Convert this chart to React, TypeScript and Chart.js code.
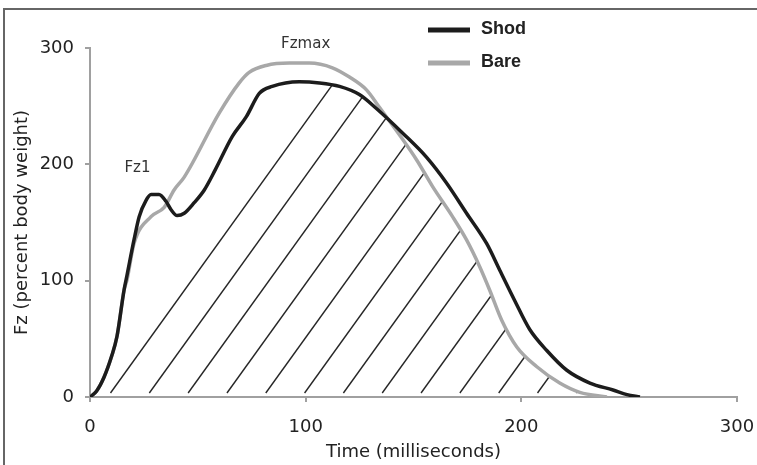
import React, { useEffect, useRef } from "react";
import { Chart, registerables } from "chart.js";

Chart.register(...registerables);

// ---- Data ----
const seriesLabels = ["Shod", "Bare"];

const shodTime = [0, 3, 6.5, 10, 12.5, 15.8, 17.2, 20.4, 22.8, 26, 28.3, 32, 35.3, 37.6, 40.4, 43.7, 48.3, 53, 58, 66, 72.5, 78.5, 84.5, 97, 106.4, 115.7, 124.9, 132.8, 144.9, 156.1, 165.3, 174.6, 183.9, 190, 196.9, 203.9, 211.8, 221.1, 231.8, 242.5, 249, 255];
const shodForce = [0, 5, 17, 35, 52, 92, 105, 135, 155, 169, 174, 174, 168, 161, 156, 158, 167, 178, 195, 224, 241, 261, 267, 271, 270, 267, 260, 248, 227, 206, 184, 158, 132, 109, 83, 58, 40, 23, 12, 6, 2, 0];

const bareTime = [0, 3, 6.5, 12.5, 15.8, 17.2, 20.4, 28.3, 34.4, 39, 43.7, 59.9, 69.2, 73.8, 81.7, 92.4, 101.7, 112.4, 120.3, 128.2, 134.2, 151.4, 158.8, 168.1, 174.6, 180.7, 185.3, 190.9, 197.9, 207.2, 217.8, 227.1, 239.7];
const bareForce = [0, 5, 17, 52, 92, 101, 132, 155, 163, 178, 189, 244, 270, 279, 285, 287, 287, 283, 275, 264, 249, 204, 181, 155, 135, 112, 92, 66, 43, 26, 12, 4, 0];

const xTickValues = [0, 100, 200, 300];
const yTickValues = [0, 100, 200, 300];

const annotationLabels = ["Fz1", "Fzmax"];
const annotationTime = [22, 100];
const annotationForce = [197, 303];

// hatch spacing in data units (ms)
const hatchStart = 9.5;
const hatchStep = 18;

const shodColor = "#1c1c1c";
const bareColor = "#a8a8a8";
const axisColor = "#a0a0a0";
const textColor = "#222222";

const hatchPlugin = {
  id: "hatch",
  beforeDatasetsDraw(chart: any) {
    const ctx = chart.ctx as CanvasRenderingContext2D;
    const area = chart.chartArea;
    const xs = chart.scales.x;
    const ys = chart.scales.y;
    const base = ys.getPixelForValue(0);
    const m0 = chart.getDatasetMeta(0).data;
    const m1 = chart.getDatasetMeta(1).data;
    ctx.save();
    const region = (pts: any[]) => {
      ctx.beginPath();
      ctx.moveTo(pts[0].x, base);
      pts.forEach((p) => ctx.lineTo(p.x, p.y));
      ctx.lineTo(pts[pts.length - 1].x, base);
      ctx.closePath();
      ctx.clip();
    };
    region(m0);
    region(m1);
    ctx.strokeStyle = "#262626";
    ctx.lineWidth = 1.4;
    const h = base - area.top;
    const slope = 0.72;
    for (let t = hatchStart; t < 300; t += hatchStep) {
      const x0 = xs.getPixelForValue(t);
      ctx.beginPath();
      ctx.moveTo(x0, base - 4);
      ctx.lineTo(x0 + slope * h, base - 4 - h);
      ctx.stroke();
    }
    ctx.restore();
  },
  afterDatasetsDraw(chart: any) {
    const ctx = chart.ctx as CanvasRenderingContext2D;
    const xs = chart.scales.x;
    const ys = chart.scales.y;
    ctx.save();
    ctx.font = "15px 'DejaVu Sans'";
    ctx.fillStyle = "#333";
    ctx.textAlign = "center";
    ctx.textBaseline = "middle";
    annotationLabels.forEach((lab, i) => {
      ctx.fillText(lab, xs.getPixelForValue(annotationTime[i]), ys.getPixelForValue(annotationForce[i]));
    });
    ctx.restore();
  },
  afterDraw(chart: any) {
    const ctx = chart.ctx as CanvasRenderingContext2D;
    ctx.save();
    const lx = 428;
    const lw = 42;
    const rows = [30, 63];
    chart.data.datasets.forEach((ds: any, i: number) => {
      const y = rows[i];
      ctx.strokeStyle = ds.borderColor;
      ctx.lineWidth = 5;
      ctx.beginPath();
      ctx.moveTo(lx, y);
      ctx.lineTo(lx + lw, y);
      ctx.stroke();
      ctx.font = "bold 18px 'Liberation Sans'";
      ctx.fillStyle = textColor;
      ctx.textAlign = "left";
      ctx.textBaseline = "middle";
      ctx.fillText(ds.label, lx + lw + 11, y - 1);
    });
    ctx.restore();
  },
};

export default function App() {
  const ref = useRef<HTMLCanvasElement | null>(null);
  useEffect(() => {
    if (!ref.current) return;
    const tickFont = { family: "'DejaVu Sans'", size: 18 };
    const titleFont = { family: "'DejaVu Sans'", size: 18 };
    const chart = new Chart(ref.current, {
      type: "line",
      data: {
        datasets: [
          {
            label: seriesLabels[0],
            data: shodTime.map((t, i) => ({ x: t, y: shodForce[i] })),
            borderColor: shodColor,
            borderWidth: 3.5,
            pointRadius: 0,
            cubicInterpolationMode: "monotone",
            fill: false,
          },
          {
            label: seriesLabels[1],
            data: bareTime.map((t, i) => ({ x: t, y: bareForce[i] })),
            borderColor: bareColor,
            borderWidth: 3.5,
            pointRadius: 0,
            cubicInterpolationMode: "monotone",
            fill: false,
          },
        ],
      },
      options: {
        responsive: false,
        animation: false,
        layout: { padding: { left: 0, right: 20, top: 48, bottom: 0 } },
        plugins: { legend: { display: false }, tooltip: { enabled: false } },
        scales: {
          x: {
            type: "linear",
            min: 0,
            max: 300,
            afterFit: (s: any) => {
              s.height = 68;
              s.paddingLeft = 0;
              s.paddingRight = 0;
            },
            afterBuildTicks: (s: any) => {
              s.ticks = xTickValues.map((v) => ({ value: v }));
            },
            ticks: { font: tickFont, color: textColor, padding: 15, maxRotation: 0 },
            grid: { drawOnChartArea: false, tickLength: 5, color: axisColor, lineWidth: 2 },
            border: { color: axisColor, width: 2 },
            title: {
              display: true,
              text: "Time (milliseconds)",
              font: titleFont,
              color: textColor,
              padding: { top: 0, bottom: 2 },
            },
          },
          y: {
            type: "linear",
            min: 0,
            max: 300,
            afterFit: (s: any) => {
              s.width = 90;
              s.paddingTop = 0;
              s.paddingBottom = 0;
            },
            afterBuildTicks: (s: any) => {
              s.ticks = yTickValues.map((v) => ({ value: v }));
            },
            ticks: { font: tickFont, color: textColor, padding: 11 },
            grid: { drawOnChartArea: false, tickLength: 5, color: axisColor, lineWidth: 2 },
            border: { color: axisColor, width: 2 },
            title: {
              display: true,
              text: "Fz (percent body weight)",
              font: titleFont,
              color: textColor,
              padding: { top: 12, bottom: 0 },
            },
          },
        },
      },
      plugins: [hatchPlugin],
    } as any);
    return () => chart.destroy();
  }, []);

  return (
    <div style={{ position: "absolute", left: 0, top: 0, width: 757, height: 465, background: "#fff", overflow: "hidden" }}>
      <canvas ref={ref} width={757} height={465} style={{ position: "absolute", left: 0, top: 0 }} />
      <div
        style={{
          position: "absolute",
          left: 3,
          top: 8,
          width: 754,
          height: 457,
          borderLeft: "2px solid #666",
          borderTop: "2px solid #666",
          boxSizing: "border-box",
          pointerEvents: "none",
        }}
      />
    </div>
  );
}
